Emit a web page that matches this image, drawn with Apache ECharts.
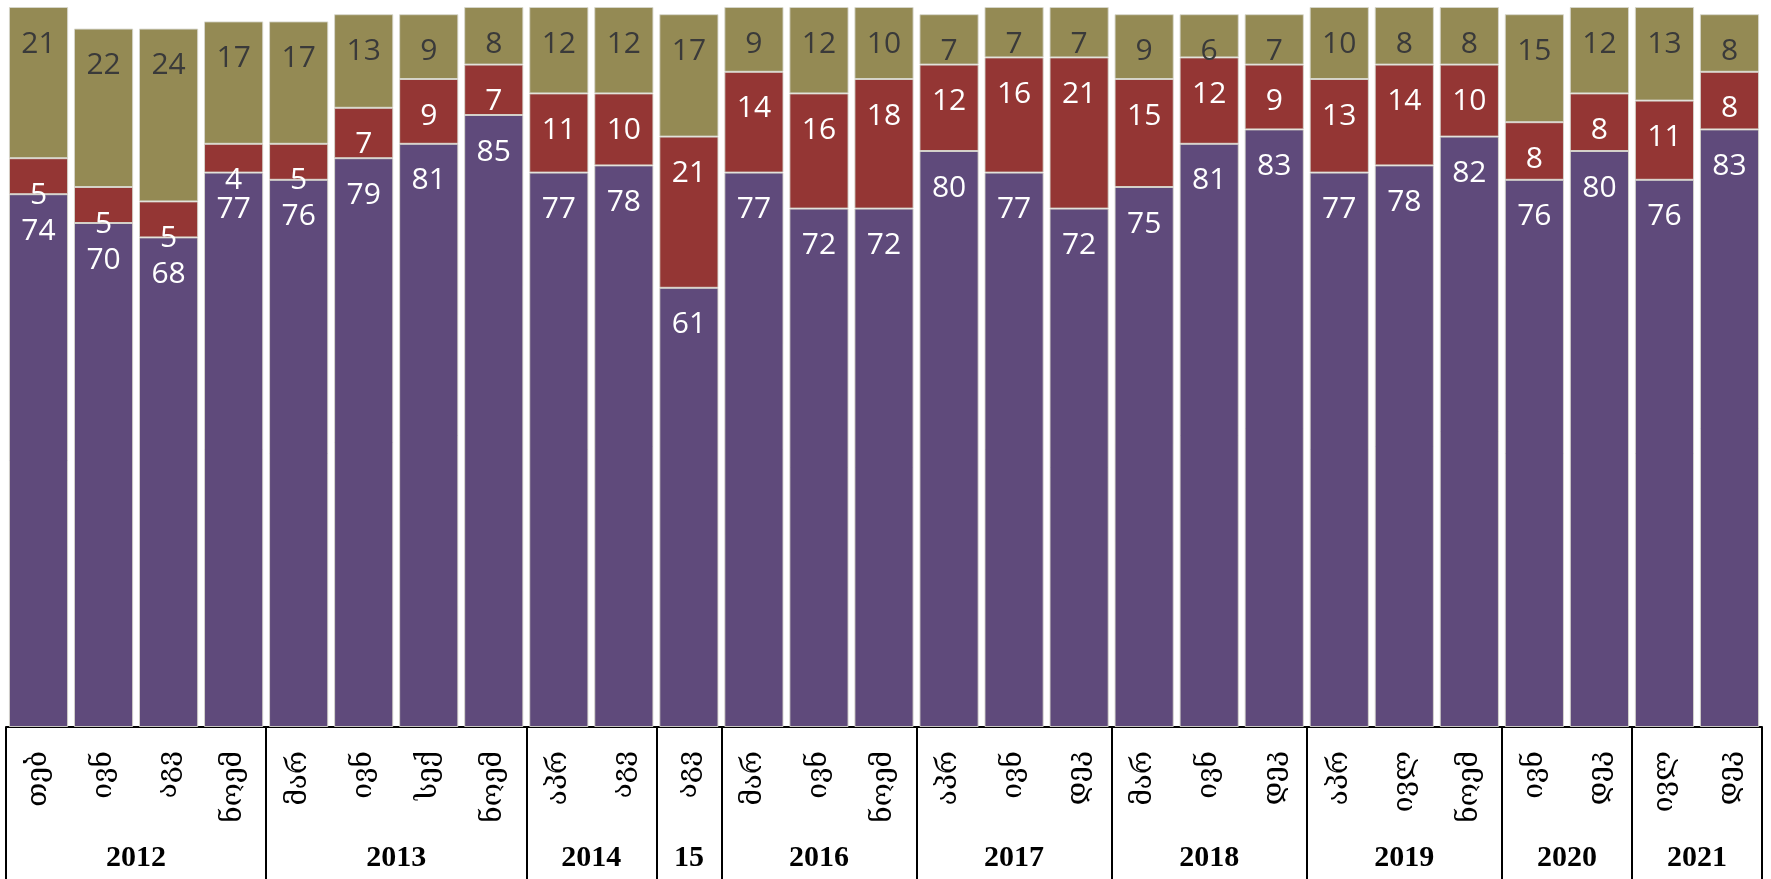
<!DOCTYPE html>
<html>
<head>
<meta charset="utf-8">
<script src="https://cdn.jsdelivr.net/npm/echarts@6/dist/echarts.min.js"></script>
<style>
html,body{margin:0;padding:0;background:#fff;}
#chart{width:1771px;height:879px;}
</style>
</head>
<body>
<div id="chart"></div>
<script>
const months = ['თებ','ივნ','აგვ','ნოემ','მარ','ივნ','სექ','ნოემ','აპრ','აგვ','აგვ','მარ','ივნ','ნოემ','აპრ','ივნ','დეკ','მარ','ივნ','დეკ','აპრ','ივლ','ნოემ','ივნ','დეკ','ივლ','დეკ'];
const years = ['2012','2013','2014','15','2016','2017','2018','2019','2020','2021'];
const yearCounts = [4,4,2,1,3,3,3,3,2,2];
const seriesA = [74,70,68,77,76,79,81,85,77,78,61,77,72,72,80,77,72,75,81,83,77,78,82,76,80,76,83];
const seriesB = [5,5,5,4,5,7,9,7,11,10,21,14,16,18,12,16,21,15,12,9,13,14,10,8,8,11,8];
const seriesC = [21,22,24,17,17,13,9,8,12,12,17,9,12,10,7,7,7,9,6,7,10,8,8,15,12,13,8];

const boundaries = [0];
const centers = [];
yearCounts.forEach(c => { const s = boundaries[boundaries.length-1]; centers.push(s + c/2); boundaries.push(s + c); });

const chart = echarts.init(document.getElementById('chart'));
const labelFont = {fontFamily:'Open Sans, sans-serif', fontSize:30, lineHeight:32};
function mk(name, data, color, textColor){
  return {
    name, type:'bar', stack:'s', data, barCategoryGap:'9%',
    itemStyle:{color, borderColor:'rgba(215,215,205,0.9)', borderWidth:1},
    label:Object.assign({show:true, position:'insideTop', distance:21, color:textColor}, labelFont)
  };
}
chart.setOption({
  animation:false,
  grid:{left:6, right:9, top:7, bottom:152, containLabel:false},
  xAxis:[{
    type:'category', data:months, position:'bottom',
    axisLine:{show:true, lineStyle:{color:'#000', width:2}},
    axisTick:{show:false},
    axisLabel:{rotate:90, margin:24, fontFamily:'DejaVu Serif, DejaVu Sans, serif', fontSize:28, color:'#000', interval:0}
  },{
    type:'value', min:0, max:27, position:'bottom', offset:152,
    axisLine:{show:false},
    splitLine:{show:false},
    axisTick:{show:true, inside:true, length:152, customValues:boundaries, lineStyle:{color:'#000', width:2}},
    axisLabel:{show:true, inside:true, margin:6, customValues:centers,
      formatter:(v)=>{ const i = centers.findIndex(c=>Math.abs(c-v)<1e-6); return i>=0?years[i]:''; },
      fontFamily:'Liberation Serif, serif', fontWeight:'bold', fontSize:30, color:'#000'}
  }],
  yAxis:{type:'value', min:0, max:100, show:false, splitLine:{show:false}},
  series:[
    mk('a', seriesA, '#5F4A7B', '#ffffff'),
    mk('b', seriesB, '#943634', '#ffffff'),
    mk('c', seriesC, '#948A54', '#3A3A3A')
  ]
});
</script>
</body>
</html>
